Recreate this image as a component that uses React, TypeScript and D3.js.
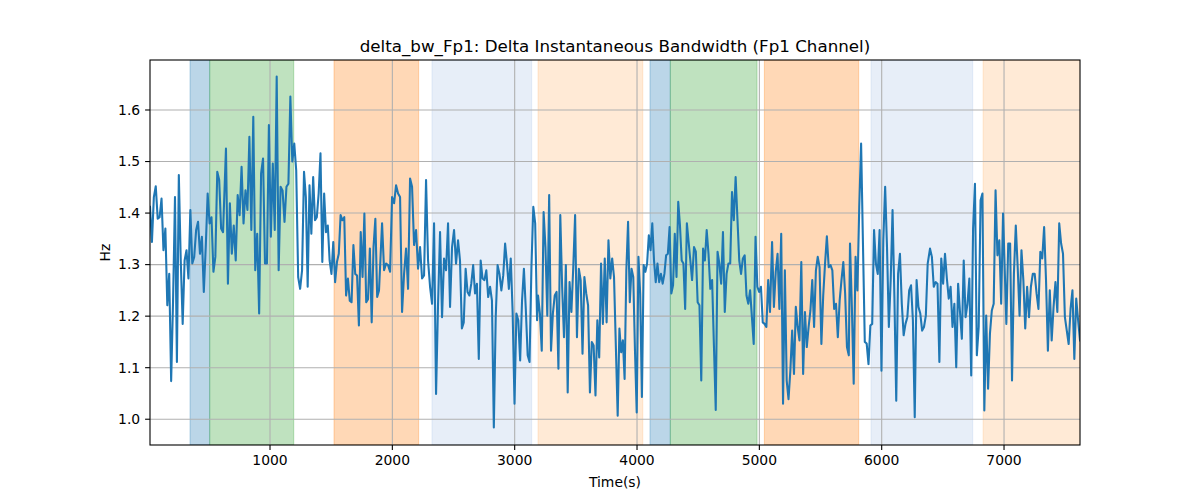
import React from "react";
import * as d3 from "d3";

const title = "delta_bw_Fp1: Delta Instantaneous Bandwidth (Fp1 Channel)";
const xLabel = "Time(s)";
const yLabel = "Hz";

const xTicks = [1000, 2000, 3000, 4000, 5000, 6000, 7000];
const yTicks = [1.0, 1.1, 1.2, 1.3, 1.4, 1.5, 1.6];
const xDomain = [19, 7621];
const yDomain = [0.95, 1.697];

// shaded intervals (start, end, colour)
const spanStarts = [346, 507, 1523, 2324, 3191, 4106, 4272, 5041, 5913, 6829];
const spanEnds = [507, 1194, 2215, 3139, 4047, 4272, 4981, 5812, 6744, 7625];
const spanColors = ["#1f77b4", "#2ca02c", "#ff7f0e", "#aec7e8", "#ffbb78", "#1f77b4", "#2ca02c", "#ff7f0e", "#aec7e8", "#ffbb78"];

// signal recorded in segments, each evenly sampled between its start and end time
const segStart = [19, 640, 1278, 1916, 2553, 3191, 3842, 4466, 5104, 5741, 6395, 7019];
const segEnd = [616, 1262, 1891, 2537, 3183, 3812, 4450, 5087, 5731, 6376, 6992, 7621];
const seg1 = [1.412,1.344,1.431,1.452,1.389,1.392,1.428,1.328,1.370,1.221,1.282,1.074,1.230,1.431,1.111,1.474,1.308,1.185,1.308,1.328,1.273,1.406,1.302,1.315,1.367,1.383,1.321,1.354,1.247,1.334,1.438,1.380,1.392,1.286,1.315,1.480,1.464,1.370,1.363];
const seg2 = [1.525,1.263,1.419,1.321,1.376,1.308,1.435,1.396,1.490,1.380,1.444,1.406,1.548,1.367,1.587,1.289,1.360,1.205,1.477,1.506,1.302,1.302,1.571,1.354,1.496,1.367,1.665,1.289,1.451,1.444,1.383,1.451,1.457,1.626,1.500,1.535,1.483,1.276,1.253,1.289];
const seg3 = [1.480,1.431,1.257,1.454,1.360,1.470,1.386,1.392,1.438,1.516,1.305,1.438,1.363,1.376,1.308,1.282,1.344,1.266,1.305,1.321,1.396,1.386,1.392,1.240,1.273,1.230,1.227,1.338,1.282,1.279,1.182,1.363,1.276,1.399,1.227,1.233,1.331,1.188,1.334,1.389,1.237,1.250];
const seg4 = [1.380,1.289,1.302,1.299,1.286,1.431,1.419,1.454,1.438,1.431,1.208,1.282,1.331,1.253,1.467,1.451,1.338,1.367,1.292,1.334,1.273,1.279,1.464,1.308,1.257,1.224,1.380,1.049,1.224,1.363,1.198,1.312,1.289,1.380,1.218,1.334,1.367,1.302,1.347];
const seg5 = [1.308,1.176,1.188,1.292,1.247,1.240,1.263,1.299,1.244,1.263,1.117,1.308,1.273,1.270,1.289,1.237,1.257,1.230,0.984,1.198,1.299,1.282,1.250,1.279,1.341,1.302,1.253,1.312,1.208,1.030,1.205,1.192,1.114,1.230,1.292,1.214,1.124,1.111,1.295,1.412,1.380,1.192];
const seg6 = [1.240,1.205,1.133,1.402,1.334,1.201,1.435,1.133,1.205,1.240,1.247,1.098,1.396,1.257,1.159,1.299,1.052,1.266,1.208,1.295,1.396,1.159,1.292,1.270,1.127,1.276,1.244,1.221,1.052,1.150,1.143,1.046,1.192,1.120,1.302,1.185,1.312,1.188,1.347,1.273,1.312,1.276];
const seg7 = [1.007,1.176,1.130,1.153,1.078,1.289,1.383,1.227,1.292,1.276,1.133,1.013,1.315,1.244,1.043,1.299,1.286,1.302,1.357,1.328,1.380,1.308,1.266,1.302,1.266,1.282,1.263,1.282,1.318,1.321,1.373,1.244,1.260,1.360,1.276,1.422,1.376,1.308,1.302,1.214,1.380,1.344,1.308,1.270];
const seg8 = [1.334,1.325,1.227,1.221,1.075,1.331,1.308,1.367,1.321,1.253,1.270,1.143,1.018,1.325,1.302,1.263,1.363,1.208,1.282,1.302,1.302,1.441,1.386,1.470,1.389,1.308,1.282,1.312,1.318,1.240,1.224,1.250,1.198,1.146,1.354,1.257,1.247,1.257,1.188,1.185,1.179,1.270,1.208];
const seg9 = [1.344,1.218,1.286,1.321,1.214,1.360,1.030,1.289,1.075,1.039,1.094,1.172,1.088,1.218,1.179,1.153,1.305,1.088,1.208,1.140,1.179,1.211,1.270,1.179,1.289,1.315,1.295,1.146,1.240,1.302,1.355,1.295,1.299,1.289,1.214,1.224,1.159,1.230,1.270,1.305,1.244,1.140,1.124];
const seg10 = [1.341,1.218,1.069,1.315,1.250,1.412,1.535,1.341,1.150,1.147,1.107,1.182,1.185,1.367,1.302,1.282,1.367,1.094,1.347,1.451,1.334,1.179,1.270,1.406,1.237,1.036,1.282,1.321,1.224,1.163,1.185,1.198,1.250,1.260,1.192,1.004,1.270,1.218,1.205,1.172,1.179,1.201,1.302];
const seg11 = [1.331,1.315,1.257,1.266,1.263,1.111,1.312,1.263,1.321,1.273,1.234,1.257,1.179,1.224,1.101,1.263,1.208,1.156,1.308,1.198,1.224,1.273,1.085,1.370,1.457,1.124,1.179,1.425,1.438,1.017,1.201,1.059,1.166,1.211,1.224,1.444,1.318,1.347,1.224,1.399];
const seg12 = [1.185,1.341,1.341,1.075,1.282,1.376,1.295,1.201,1.328,1.270,1.176,1.257,1.198,1.257,1.282,1.282,1.244,1.214,1.325,1.312,1.373,1.270,1.133,1.250,1.153,1.218,1.266,1.208,1.380,1.341,1.321,1.198,1.172,1.146,1.214,1.250,1.117,1.234,1.192,1.153];
const segValues = [seg1, seg2, seg3, seg4, seg5, seg6, seg7, seg8, seg9, seg10, seg11, seg12];

const W = 1200, H = 500;
const M = { left: 150, right: 1080, top: 60, bottom: 445 };
const FONT = "DejaVu Sans, sans-serif";

export default function App() {
  const x = d3.scaleLinear().domain(xDomain).range([M.left, M.right]);
  const y = d3.scaleLinear().domain(yDomain).range([M.bottom, M.top]);

  const points: [number, number][] = [];
  segValues.forEach((vals, i) => {
    const n = vals.length;
    vals.forEach((v, j) => {
      const t = segStart[i] + (n > 1 ? (j * (segEnd[i] - segStart[i])) / (n - 1) : 0);
      points.push([t, v]);
    });
  });
  const line = d3.line<[number, number]>().x((d) => x(d[0])).y((d) => y(d[1]));

  return (
    <svg width={W} height={H} style={{ position: "absolute", left: 0, top: 0, background: "#fff" }} fontFamily={FONT}>
      <defs>
        <clipPath id="plot">
          <rect x={M.left} y={M.top} width={M.right - M.left} height={M.bottom - M.top} />
        </clipPath>
      </defs>
      <g clipPath="url(#plot)">
        {spanStarts.map((s, i) => (
          <rect key={i} x={x(s)} y={M.top} width={x(spanEnds[i]) - x(s)} height={M.bottom - M.top}
            fill={spanColors[i]} fillOpacity={0.3} stroke={spanColors[i]} strokeOpacity={0.3} strokeWidth={1} />
        ))}
        {xTicks.map((t) => (
          <line key={"gx" + t} x1={x(t)} x2={x(t)} y1={M.top} y2={M.bottom} stroke="#b0b0b0" strokeWidth={1.1} />
        ))}
        {yTicks.map((t) => (
          <line key={"gy" + t} x1={M.left} x2={M.right} y1={y(t)} y2={y(t)} stroke="#b0b0b0" strokeWidth={1.1} />
        ))}
        <path d={line(points) || ""} fill="none" stroke="#1f77b4" strokeWidth={2.08} strokeLinejoin="round" strokeLinecap="square" />
      </g>
      <rect x={M.left} y={M.top} width={M.right - M.left} height={M.bottom - M.top} fill="none" stroke="#000" strokeWidth={1.1} />
      {xTicks.map((t) => (
        <g key={"tx" + t}>
          <line x1={x(t)} x2={x(t)} y1={M.bottom} y2={M.bottom + 4.9} stroke="#000" strokeWidth={1.1} />
          <text x={x(t)} y={M.bottom + 9.8} dy="0.76em" textAnchor="middle" fontSize={13.9} fill="#000">{t}</text>
        </g>
      ))}
      {yTicks.map((t) => (
        <g key={"ty" + t}>
          <line x1={M.left - 4.9} x2={M.left} y1={y(t)} y2={y(t)} stroke="#000" strokeWidth={1.1} />
          <text x={M.left - 9.8} y={y(t)} dy="0.35em" textAnchor="end" fontSize={13.9} fill="#000">{t.toFixed(1)}</text>
        </g>
      ))}
      <text x={(M.left + M.right) / 2} y={M.top - 8} textAnchor="middle" fontSize={16.7} fill="#000">{title}</text>
      <text x={(M.left + M.right) / 2} y={487} textAnchor="middle" fontSize={13.9} fill="#000">{xLabel}</text>
      <text transform={`translate(110, ${(M.top + M.bottom) / 2}) rotate(-90)`} textAnchor="middle" fontSize={13.9} fill="#000">{yLabel}</text>
    </svg>
  );
}
